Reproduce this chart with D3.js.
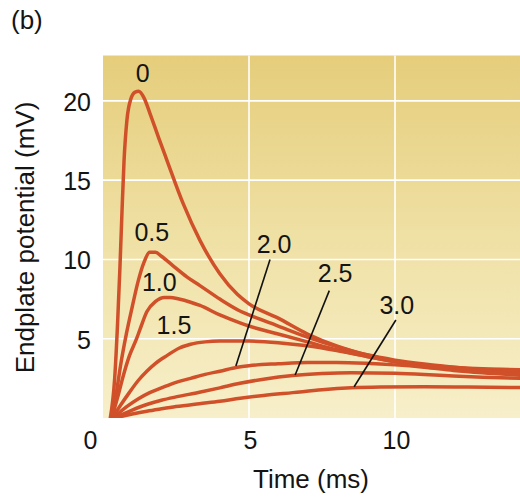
<!DOCTYPE html>
<html>
<head>
<meta charset="utf-8">
<script src="https://cdn.jsdelivr.net/npm/d3@7"></script>
<style>
    body { margin: 0; background: #fff; }
    svg text { font-family: "Liberation Sans", Arial, Helvetica, sans-serif; fill: #141414; }
</style>
</head>
<body>
<script>
// curare dose for each curve
const doseLabels = ["0", "0.5", "1.0", "1.5", "2.0", "2.5", "3.0"];

// time (ms) and endplate potential (mV)
const time0 = [0.25, 0.4, 0.5, 0.58, 0.65, 0.72, 0.82, 0.95, 1.1, 1.22, 1.4, 1.61, 1.9, 2.18, 2.75, 3.32, 4.0, 4.6, 5.0, 6, 7, 8, 9, 10, 11, 12, 13, 14.3];
const mv0 = [0, 2.5, 6, 9.5, 13, 16.2, 18.8, 20.1, 20.55, 20.6, 20.2, 19.2, 17.7, 16.3, 13.5, 11.2, 9.1, 7.8, 7.2, 6.3, 5.3, 4.55, 4.0, 3.6, 3.35, 3.2, 3.1, 3.05];

const time05 = [0.28, 0.45, 0.6, 0.8, 1.0, 1.2, 1.4, 1.6, 1.8, 2.0, 2.4, 2.87, 3.32, 4.0, 4.69, 5, 6, 7, 8, 9, 10, 11, 12, 13, 14.3];
const mv05 = [0, 1.5, 3.3, 5.3, 7.0, 8.6, 9.8, 10.45, 10.45, 10.2, 9.6, 8.9, 8.35, 7.5, 6.75, 6.5, 5.8, 5.1, 4.5, 4.0, 3.65, 3.4, 3.2, 3.07, 3.0];

const time10 = [0.3, 0.5, 0.7, 0.9, 1.15, 1.27, 1.5, 1.8, 2.1, 2.3, 2.6, 3.0, 3.32, 4.0, 4.69, 5, 6, 7, 8, 9, 10, 11, 12, 13, 14.3];
const mv10 = [0, 1.3, 2.7, 3.9, 5.0, 5.6, 6.7, 7.35, 7.6, 7.6, 7.5, 7.3, 7.1, 6.5, 6.0, 5.8, 5.3, 4.8, 4.3, 3.9, 3.55, 3.3, 3.12, 3.0, 2.9];

const time15 = [0.32, 0.6, 0.9, 1.2, 1.5, 1.8, 2.2, 2.6, 3.0, 3.5, 4, 5, 6, 7, 8, 9, 10, 11, 12, 13, 14.3];
const mv15 = [0, 0.8, 1.6, 2.35, 2.95, 3.45, 3.95, 4.4, 4.65, 4.8, 4.85, 4.85, 4.75, 4.55, 4.25, 3.9, 3.55, 3.3, 3.1, 2.95, 2.8];

const time20 = [0.35, 0.8, 1.2, 1.6, 2.0, 2.5, 3.0, 3.5, 4.0, 4.6, 5, 6, 7, 8, 9, 10, 11, 12, 13, 14.3];
const mv20 = [0, 0.7, 1.2, 1.6, 1.9, 2.25, 2.5, 2.75, 2.95, 3.2, 3.3, 3.42, 3.5, 3.5, 3.45, 3.35, 3.2, 3.0, 2.85, 2.7];

const time25 = [0.38, 1.0, 1.5, 2.0, 2.5, 3.3, 4.0, 4.69, 5.5, 6.5, 7.5, 8.5, 10, 11, 12, 13, 14.3];
const mv25 = [0, 0.5, 0.85, 1.12, 1.33, 1.62, 1.9, 2.19, 2.45, 2.68, 2.8, 2.85, 2.82, 2.75, 2.65, 2.57, 2.5];

const time30 = [0.4, 1.0, 1.5, 2.0, 2.5, 3.3, 4.0, 4.7, 5.5, 6.5, 7.5, 8.5, 9.5, 11, 12.5, 14.3];
const mv30 = [0, 0.25, 0.43, 0.58, 0.72, 0.9, 1.05, 1.24, 1.42, 1.6, 1.78, 1.9, 1.95, 1.97, 1.95, 1.92];

const xTicks = [0, 5, 10];
const yTicks = [5, 10, 15, 20];

const width = 520;
const height = 497;

const curves = [
    [time0, mv0], [time05, mv05], [time10, mv10], [time15, mv15],
    [time20, mv20], [time25, mv25], [time30, mv30]
].map(([t, v], i) => ({ dose: doseLabels[i], points: t.map((d, j) => [d, v[j]]) }));

const x = d3.scaleLinear().domain([0, 14.28]).range([103, 520]);
const y = d3.scaleLinear().domain([0, 22.86]).range([418, 55.5]);

const svg = d3.select('body')
    .append('svg')
    .attr('width', width)
    .attr('height', height);

// Background gradient of the plot panel
const defs = svg.append('defs');
const bg = defs.append('linearGradient')
    .attr('id', 'panel-gradient')
    .attr('x1', 0).attr('y1', 0)
    .attr('x2', 0).attr('y2', 1);
bg.append('stop').attr('offset', '0%').style('stop-color', '#e5cd7b');
bg.append('stop').attr('offset', '55%').style('stop-color', '#f0e2a8');
bg.append('stop').attr('offset', '100%').style('stop-color', '#f7efca');

defs.append('clipPath')
    .attr('id', 'panel-clip')
    .append('rect')
    .attr('x', x(0)).attr('y', y.range()[1])
    .attr('width', x.range()[1] - x(0))
    .attr('height', y(0) - y.range()[1]);

svg.append('rect')
    .attr('x', x(0))
    .attr('y', y.range()[1])
    .attr('width', x.range()[1] - x(0))
    .attr('height', y(0) - y.range()[1])
    .style('fill', 'url(#panel-gradient)');

// White grid
svg.append('g')
    .selectAll('line')
    .data(yTicks)
    .enter()
    .append('line')
    .attr('x1', x(0)).attr('x2', x.range()[1])
    .attr('y1', d => y(d)).attr('y2', d => y(d))
    .style('stroke', '#fff')
    .style('stroke-width', 1.6);

svg.append('g')
    .selectAll('line')
    .data(xTicks.filter(d => d > 0))
    .enter()
    .append('line')
    .attr('x1', d => x(d)).attr('x2', d => x(d))
    .attr('y1', y.range()[1]).attr('y2', y(0))
    .style('stroke', '#fff')
    .style('stroke-width', 1.6);

// Axes (labels only)
const xAxis = svg.append('g')
    .attr('transform', `translate(0, ${y(0)})`)
    .call(d3.axisBottom(x).tickValues(xTicks).tickSize(0).tickPadding(13).tickFormat(d3.format('d')));
xAxis.select('.domain').remove();
xAxis.selectAll('text')
    .attr('font-size', 25)
    .attr('dx', d => d === 0 ? -13 : 1);

const yAxis = svg.append('g')
    .attr('transform', `translate(${x(0)}, 0)`)
    .call(d3.axisLeft(y).tickValues(yTicks).tickSize(0).tickPadding(12).tickFormat(d3.format('d')));
yAxis.select('.domain').remove();
yAxis.selectAll('text')
    .attr('font-size', 25)
    .attr('dy', '0.38em');

// Curves
const line = d3.line()
    .x(d => x(d[0]))
    .y(d => y(d[1]))
    .curve(d3.curveMonotoneX);

svg.append('g')
    .attr('clip-path', 'url(#panel-clip)')
    .selectAll('path')
    .data(curves)
    .enter()
    .append('path')
    .attr('d', d => line(d.points))
    .style('fill', 'none')
    .style('stroke', '#d0502a')
    .style('stroke-width', 3.5)
    .style('stroke-linejoin', 'round')
    .style('stroke-linecap', 'round');

// Dose labels, placed in data units; the last three use pointer lines
const labelAt = [[1.36, 21.73], [1.67, 11.75], [1.93, 8.6], [2.43, 5.86], [5.86, 10.97], [7.95, 9.12], [10.06, 7.12]];
const pointers = [
    { dose: "2.0", from: [5.72, 10.0], to: [4.55, 3.28] },
    { dose: "2.5", from: [7.75, 8.03], to: [6.58, 2.71] },
    { dose: "3.0", from: [10.03, 6.18], to: [8.6, 1.97] }
];

svg.append('g')
    .selectAll('line')
    .data(pointers)
    .enter()
    .append('line')
    .attr('x1', d => x(d.from[0])).attr('y1', d => y(d.from[1]))
    .attr('x2', d => x(d.to[0])).attr('y2', d => y(d.to[1]))
    .style('stroke', '#111')
    .style('stroke-width', 1.6);

svg.append('g')
    .selectAll('text')
    .data(doseLabels)
    .enter()
    .append('text')
    .attr('x', (d, i) => x(labelAt[i][0]))
    .attr('y', (d, i) => y(labelAt[i][1]))
    .attr('dy', '0.36em')
    .attr('text-anchor', 'middle')
    .attr('font-size', 25)
    .text(d => d);

// Axis titles and panel letter
svg.append('text')
    .attr('x', 311)
    .attr('y', 488)
    .attr('text-anchor', 'middle')
    .attr('font-size', 26)
    .text('Time (ms)');

svg.append('text')
    .attr('transform', 'translate(34, 237.5) rotate(-90)')
    .attr('text-anchor', 'middle')
    .attr('font-size', 26)
    .text('Endplate potential (mV)');

svg.append('text')
    .attr('x', 11)
    .attr('y', 29)
    .attr('font-size', 26)
    .text('(b)');
</script>
</body>
</html>
